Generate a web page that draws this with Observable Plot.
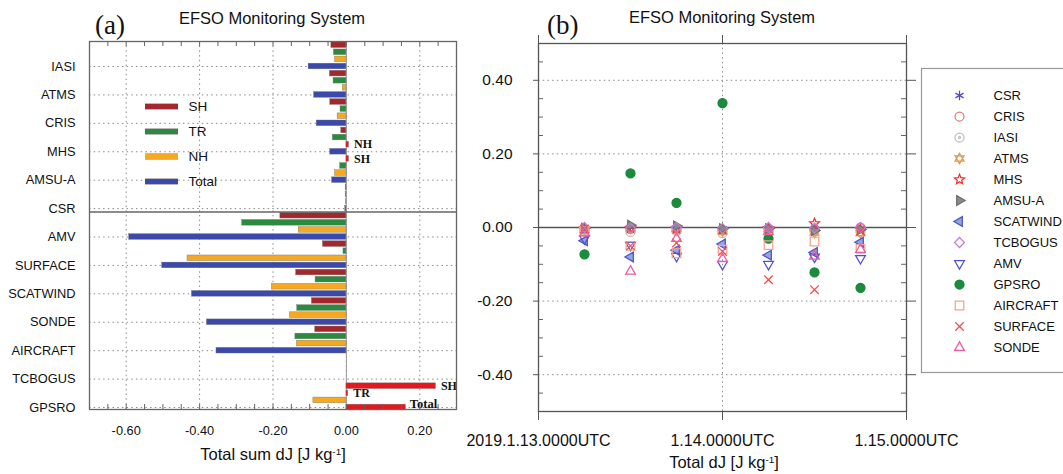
<!DOCTYPE html>
<html>
<head>
<meta charset="utf-8">
<script src="https://cdn.jsdelivr.net/npm/d3@7"></script>
<script src="https://cdn.jsdelivr.net/npm/@observablehq/plot@0.6"></script>
<style>
  html, body { margin: 0; padding: 0; background: #fff; overflow: hidden; }
  #root { position: relative; width: 1063px; height: 474px; overflow: hidden; font-family: "Liberation Sans", Arial, sans-serif; color: #111; }
  .abs { position: absolute; white-space: nowrap; line-height: 1; }
  .title { font-size: 16.5px; transform: translateX(-50%); }
  .tag { font-family: "Liberation Serif", "Times New Roman", serif; font-size: 27px; }
  .sup { font-size: 0.6em; position: relative; top: -0.55em; }
  svg { position: absolute; overflow: visible; max-width: none !important; }
</style>
</head>
<body>
<div id="root"></div>
<script>
// ---------- Panel (a) data ----------
const categories = ["IASI","ATMS","CRIS","MHS","AMSU-A","CSR","AMV","SURFACE","SCATWIND","SONDE","AIRCRAFT","TCBOGUS","GPSRO"];
const shValues    = [-0.041,-0.045,-0.044,-0.014, 0.007,-0.002,-0.180,-0.064,-0.137,-0.094,-0.085, 0, 0.244];
const trValues    = [-0.034,-0.035,-0.016,-0.037,-0.017,-0.002,-0.284,-0.008,-0.084,-0.134,-0.139, 0, 0.005];
const nhValues    = [-0.031,-0.010,-0.024, 0.007,-0.031,-0.001,-0.130,-0.433,-0.203,-0.154,-0.135, 0,-0.090];
const totalValues = [-0.103,-0.088,-0.081,-0.044,-0.039,-0.003,-0.592,-0.502,-0.421,-0.380,-0.354, 0, 0.162];
const regions = ["SH","TR","NH","Total"];
const regionColors = ["#a3282c","#2b8a3e","#f6a81f","#3a49ab"];
const positiveColor = "#e8161d";
const separatorAfter = "CSR";
const xTicksA = [-0.6,-0.4,-0.2,0,0.2];
const xAxisTitleA = "Total sum dJ [J kg";

// ---------- Panel (b) data ----------
const hours = [6,12,18,24,30,36,42]; // hours after 2019-01-13 00UTC
const xTicksB = [0,24,48];
const xTickLabelsB = ["2019.1.13.0000UTC","1.14.0000UTC","1.15.0000UTC"];
const yTicksB = [-0.4,-0.2,0,0.2,0.4];
const seriesNames = ["CSR","CRIS","IASI","ATMS","MHS","AMSU-A","SCATWIND","TCBOGUS","AMV","GPSRO","AIRCRAFT","SURFACE","SONDE"];
const csr      = [-0.002, 0.000,-0.001,-0.003,-0.002,-0.004,-0.003];
const cris     = [-0.006,-0.004,-0.006,-0.008,-0.004,-0.006, 0.000];
const iasi     = [-0.010,-0.012,-0.010,-0.015,-0.008,-0.010,-0.012];
const atms     = [-0.006,-0.003,-0.004,-0.010,-0.005,-0.014,-0.015];
const mhs      = [-0.004,-0.002,-0.003,-0.005,-0.002, 0.011,-0.006];
const amsua    = [-0.002, 0.006, 0.004,-0.003,-0.003,-0.008,-0.005];
const scatwind = [-0.036,-0.080,-0.062,-0.045,-0.075,-0.068,-0.040];
const tcbogus  = [ 0.000,-0.002, 0.000,-0.003, 0.000,-0.002, 0.000];
const amv      = [-0.030,-0.048,-0.078,-0.100,-0.100,-0.080,-0.084];
const gpsro    = [-0.073, 0.147, 0.067, 0.338,-0.030,-0.122,-0.164];
const aircraft = [-0.010,-0.050,-0.070,-0.060,-0.048,-0.038,-0.058];
const surface  = [-0.004,-0.050,-0.042,-0.065,-0.142,-0.169,-0.010];
const sonde    = [-0.015,-0.119,-0.030,-0.085,-0.012,-0.078,-0.060];
const seriesValues = [csr,cris,iasi,atms,mhs,amsua,scatwind,tcbogus,amv,gpsro,aircraft,surface,sonde];

// ---------- custom marker shapes ----------
const rad = s => Math.sqrt(s / Math.PI);
const triUp = {draw(c,s){const r=rad(s)*1.25; c.moveTo(0,-r); c.lineTo(r*0.866,r/2); c.lineTo(-r*0.866,r/2); c.closePath();}};
const triDown = {draw(c,s){const r=rad(s)*1.25; c.moveTo(0,r); c.lineTo(r*0.866,-r/2); c.lineTo(-r*0.866,-r/2); c.closePath();}};
const triRight = {draw(c,s){const r=rad(s)*1.25; c.moveTo(r,0); c.lineTo(-r/2,r*0.866); c.lineTo(-r/2,-r*0.866); c.closePath();}};
const triLeft = {draw(c,s){const r=rad(s)*1.25; c.moveTo(-r,0); c.lineTo(r/2,r*0.866); c.lineTo(r/2,-r*0.866); c.closePath();}};
const hexagram = {draw(c,s){const r=rad(s)*1.15; c.moveTo(0,-r); c.lineTo(r*0.866,r/2); c.lineTo(-r*0.866,r/2); c.closePath(); c.moveTo(0,r); c.lineTo(r*0.866,-r/2); c.lineTo(-r*0.866,-r/2); c.closePath();}};
const circleDot = {draw(c,s){const r=rad(s); c.moveTo(r,0); c.arc(0,0,r,0,2*Math.PI); c.moveTo(r*0.22,0); c.arc(0,0,r*0.22,0,2*Math.PI);}};
const square = {draw(c,s){const r=rad(s)*0.95; c.rect(-r,-r,2*r,2*r);}};
const star5 = {draw(c,s){const R=rad(s)*1.15, q=R*0.45; for(let k=0;k<10;k++){const a=-Math.PI/2+k*Math.PI/5, rr=k%2?q:R; const px=rr*Math.cos(a), py=rr*Math.sin(a); k?c.lineTo(px,py):c.moveTo(px,py);} c.closePath();}};
const cross = {draw(c,s){const r=rad(s)*0.95; c.moveTo(-r,-r); c.lineTo(r,r); c.moveTo(r,-r); c.lineTo(-r,r);}};
const asterisk = {draw(c,s){const r=rad(s)*1.05; for(let k=0;k<3;k++){const a=Math.PI/2+k*Math.PI/3; c.moveTo(r*Math.cos(a),r*Math.sin(a)); c.lineTo(-r*Math.cos(a),-r*Math.sin(a));}}};
const seriesStyles = [
  {symbol:asterisk, stroke:"#4c4cc0", fill:"none"},
  {symbol:"circle", stroke:"#e27a66", fill:"none"},
  {symbol:circleDot, stroke:"#bdbdbd", fill:"none"},
  {symbol:hexagram, stroke:"#e09a58", fill:"none"},
  {symbol:star5, stroke:"#f22e2e", fill:"none"},
  {symbol:triRight, stroke:"#6e6e6e", fill:"#8a8a8a"},
  {symbol:triLeft, stroke:"#4858c4", fill:"#97a2e6"},
  {symbol:"diamond2", stroke:"#c27cd8", fill:"none"},
  {symbol:triDown, stroke:"#5050d0", fill:"none"},
  {symbol:"circle", stroke:"#17843a", fill:"#1a8c3c"},
  {symbol:square, stroke:"#f4a390", fill:"none"},
  {symbol:cross, stroke:"#f44c4c", fill:"none"},
  {symbol:triUp, stroke:"#f25aa2", fill:"none"}
];
const markerR = 4.5;
const markerStroke = 1.25;

const root = document.getElementById("root");
const svgStyle = {background: "transparent", fontFamily: "'Liberation Sans', Arial, sans-serif", color: "#111", overflow: "visible"};
function place(el, left, top) { el.style.left = left + "px"; el.style.top = top + "px"; root.appendChild(el); }
function html(cls, content, left, top) { const d = document.createElement("div"); d.className = "abs " + cls; d.innerHTML = content; place(d, left, top); return d; }

// ---------- Panel (a) ----------
const rows = [];
categories.forEach((cat, i) => {
  [shValues, trValues, nhValues, totalValues].forEach((arr, ri) => {
    rows.push({cat, i, region: regions[ri], ri, value: arr[i], pos: i - (3 - ri) * 0.25});
  });
});
const barRows = rows.filter(d => d.value !== 0);
const minorA = d3.range(-0.65, 0.3, 0.05).map(v => +v.toFixed(2));
const plotHA = 474 - 41 - 65;
const sepPos = categories.indexOf(separatorAfter) + 0.12;

const plotA = Plot.plot({
  width: 470, height: 474,
  marginLeft: 89, marginRight: 14, marginTop: 41, marginBottom: 65,
  style: svgStyle,
  x: {domain: [-0.7, 0.3]},
  y: {domain: [-0.88, 12.07], reverse: true},
  marks: [
    Plot.gridX(xTicksA, {stroke: "#8a8a8a", strokeOpacity: 1, strokeDasharray: "1.5,3.2"}),
    Plot.gridY(d3.range(categories.length), {stroke: "#8a8a8a", strokeOpacity: 1, strokeDasharray: "1.5,3.2"}),
    Plot.ruleX([0], {stroke: "#9a9a9a", strokeWidth: 1}),
    Plot.rect(barRows, {
      x1: 0, x2: "value", y1: d => d.pos - 0.1, y2: d => d.pos + 0.1,
      fill: d => d.value > 0 ? positiveColor : regionColors[d.ri],
      stroke: "#777", strokeWidth: 0.4
    }),
    Plot.text(barRows.filter(d => d.value > 0 && d.region !== "Total"), {
      x: "value", y: "pos", text: "region", dx: 5, textAnchor: "start",
      fontFamily: "'Liberation Serif', 'Times New Roman', serif", fontWeight: "bold", fontSize: 12, fill: "#111"
    }),
    Plot.text(barRows.filter(d => d.value > 0 && d.region === "Total"), {
      x: "value", y: "pos", text: "region", dx: 4, dy: -4, textAnchor: "start",
      fontFamily: "'Liberation Serif', 'Times New Roman', serif", fontWeight: "bold", fontSize: 12.5, fill: "#111"
    }),
    Plot.ruleY([sepPos], {stroke: "#666", strokeWidth: 1.3}),
    Plot.ruleX(minorA, {x: d => d, insetBottom: plotHA - 5, stroke: "#666"}),
    Plot.ruleX(minorA, {x: d => d, insetTop: plotHA - 5, stroke: "#666"}),
    Plot.frame({stroke: "#666", strokeWidth: 1.3}),
    Plot.axisY({ticks: d3.range(categories.length), tickFormat: i => categories[i], tickSize: 0, tickPadding: 14, fontSize: 12.8, label: null}),
    Plot.axisX({ticks: xTicksA, tickFormat: d => d.toFixed(2), tickSize: 0, tickPadding: 16, fontSize: 12.8, label: null})
  ]
});
place(plotA, 0, 0);

// legend for (a)
const legA = Plot.plot({
  width: 100, height: 100,
  marginLeft: 5, marginRight: 62, marginTop: 12, marginBottom: 13,
  style: svgStyle,
  y: {type: "point", domain: regions, padding: 0, axis: null},
  marks: [
    Plot.tickY(regions, {y: d => d, stroke: "#777", strokeWidth: 6}),
    Plot.tickY(regions, {y: d => d, stroke: d => regionColors[regions.indexOf(d)], strokeWidth: 5}),
    Plot.text(regions, {y: d => d, text: d => d, frameAnchor: "right", dx: 10, textAnchor: "start", fontSize: 13.5, fill: "#111"})
  ]
});
place(legA, 140, 94);

// ---------- Panel (b) ----------
const minorB = d3.range(-0.45, 0.5, 0.05).map(v => +v.toFixed(2)).filter(v => Math.abs(v * 5 - Math.round(v * 5)) > 1e-6);
const plotWB = 603 - 78 - 157;
const scatterMarks = seriesNames.map((name, k) => Plot.dot(
  hours.map((h, j) => ({h, v: seriesValues[k][j]})),
  {x: "h", y: "v", r: markerR, symbol: seriesStyles[k].symbol, stroke: seriesStyles[k].stroke, fill: seriesStyles[k].fill, strokeWidth: markerStroke}
));
const plotB = Plot.plot({
  width: 603, height: 474,
  marginLeft: 78, marginRight: 157, marginTop: 43, marginBottom: 63,
  style: svgStyle,
  x: {domain: [0, 48]},
  y: {domain: [-0.5, 0.5]},
  marks: [
    Plot.gridY(yTicksB.filter(v => v !== 0), {stroke: "#8a8a8a", strokeOpacity: 1, strokeDasharray: "1.5,3.2"}),
    Plot.gridX(xTicksB, {stroke: "#8a8a8a", strokeOpacity: 1, strokeDasharray: "1.5,3.2"}),
    Plot.ruleY([0], {stroke: "#555", strokeWidth: 1.6}),
    ...scatterMarks,
    Plot.ruleY(minorB, {y: d => d, insetRight: plotWB - 5, stroke: "#666"}),
    Plot.ruleY(minorB, {y: d => d, insetLeft: plotWB - 5, stroke: "#666"}),
    Plot.frame({stroke: "#555", strokeWidth: 1.3}),
    Plot.axisY({ticks: yTicksB, tickFormat: d => d.toFixed(2), tickSize: 5, tickPadding: 21, fontSize: 15.5, label: null, stroke: "#555"}),
    Plot.axisY({anchor: "right", ticks: yTicksB, tickFormat: () => "", tickSize: 9, label: null, stroke: "#555"}),
    Plot.axisX({ticks: xTicksB, tickFormat: d => xTickLabelsB[xTicksB.indexOf(d)], tickSize: 9, tickPadding: 14, fontSize: 16, label: null, stroke: "#555"}),
    Plot.axisX({anchor: "top", ticks: xTicksB, tickFormat: () => "", tickSize: 9, label: null, stroke: "#555"})
  ]
});
place(plotB, 460, 0);

// legend for (b)
const legB = Plot.plot({
  width: 180, height: 306,
  margin: 1,
  style: svgStyle,
  y: {type: "point", domain: seriesNames, range: [17, 291], axis: null},
  marks: [
    Plot.frame({stroke: "#999", strokeWidth: 1.2, insetRight: -200}),
    ...seriesNames.map((name, k) => Plot.dot([name], {y: d => d, frameAnchor: "left", dx: 38, r: markerR,
      symbol: seriesStyles[k].symbol, stroke: seriesStyles[k].stroke, fill: seriesStyles[k].fill, strokeWidth: markerStroke})),
    Plot.text(seriesNames, {y: d => d, text: d => d, frameAnchor: "left", dx: 72, textAnchor: "start", fontSize: 13, fill: "#111"})
  ]
});
place(legB, 920, 67);

// ---------- titles ----------
html("tag", "(a)", 95, 12);
html("tag", "(b)", 547, 12);
html("title", "EFSO Monitoring System", 272, 10);
html("title", "EFSO Monitoring System", 722, 9);
html("title", xAxisTitleA + "<span class='sup'>-1</span>]", 273, 446);
html("title", "Total dJ [J kg<span class='sup'>-1</span>]", 724, 454);
</script>
</body>
</html>
